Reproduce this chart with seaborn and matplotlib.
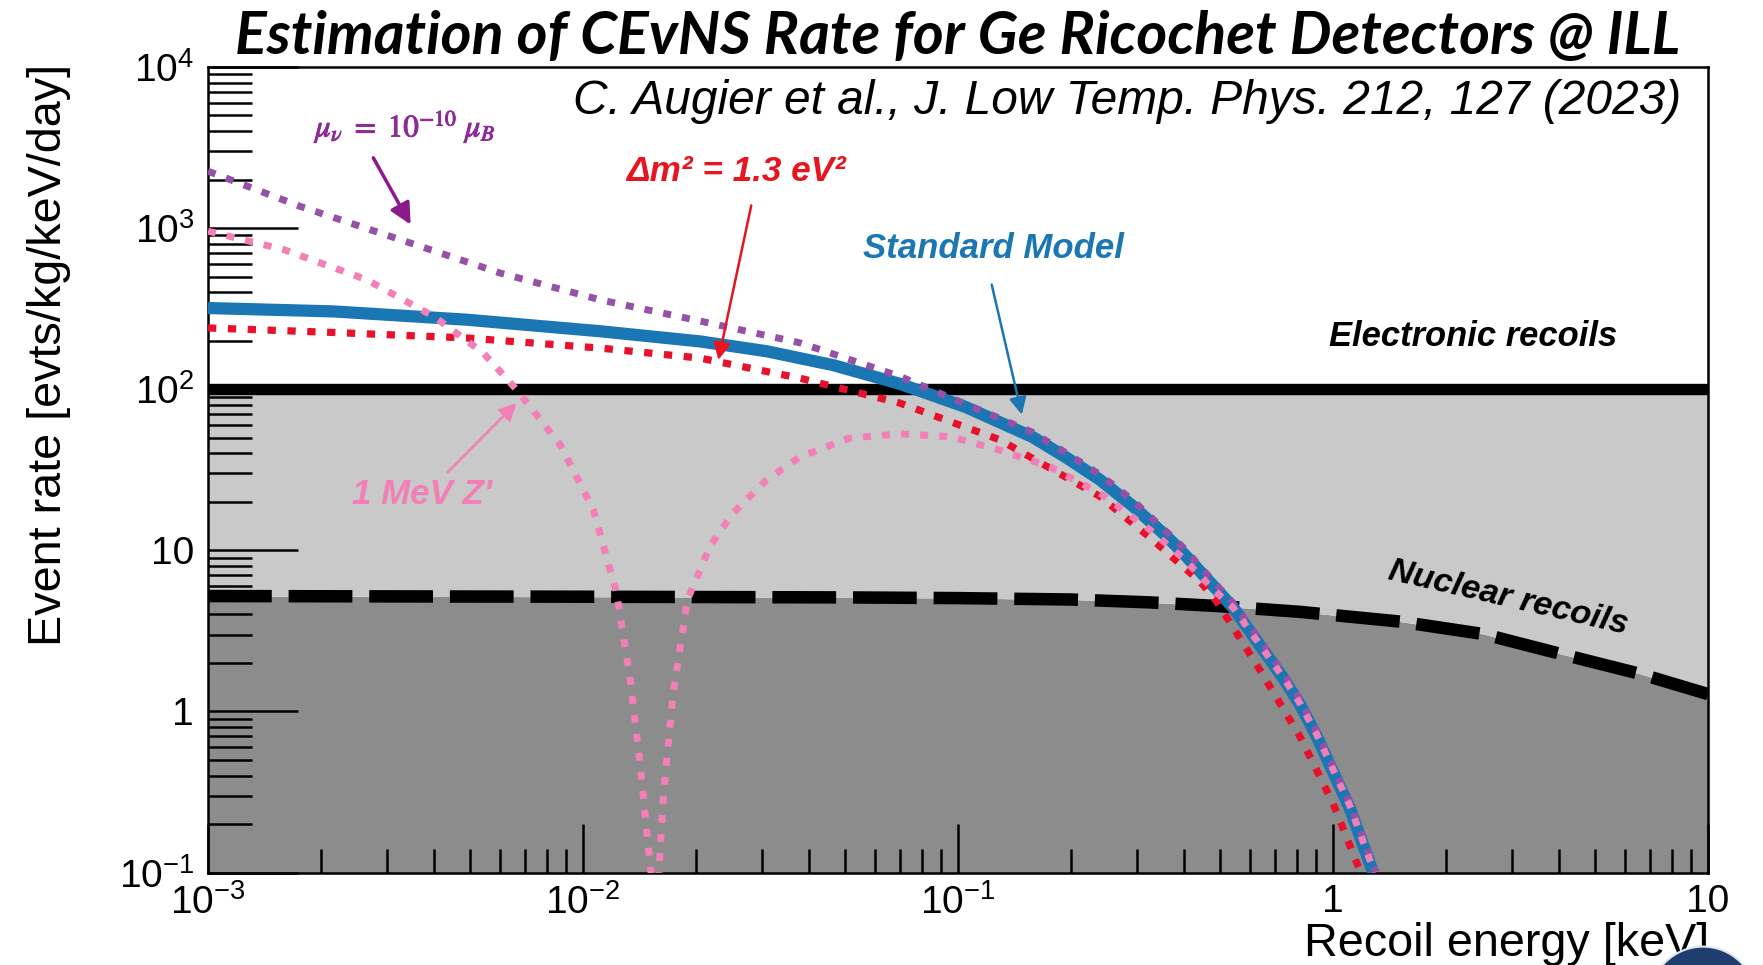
import numpy as np
import pandas as pd
import matplotlib
matplotlib.use("Agg")
import matplotlib.pyplot as plt
import matplotlib.patheffects as pe
import seaborn as sns
from matplotlib.ticker import LogLocator, NullFormatter
from matplotlib.patches import Ellipse

# ---------------- data ----------------
# Recoil energy [keV] / event rate [evts/kg/keV/day]
nuc_E = [0.001, 0.01, 0.05, 0.1, 0.2, 0.325, 0.5, 0.816, 1.51, 2.52, 4.03, 6.59, 10.0]
nuc_R = [5.2, 5.15, 5.1, 5.05, 4.95, 4.75, 4.5, 4.15, 3.61, 3.02, 2.28, 1.71, 1.28]

elec_E = [0.001, 10.0]
elec_R = [100.0, 100.0]

sm_E = [0.001, 0.00216, 0.0049, 0.0111, 0.0205, 0.0309, 0.0465, 0.070, 0.105, 0.158,
        0.195, 0.239, 0.2935, 0.36, 0.399, 0.48, 0.542, 0.738, 0.817, 0.905,
        1.109, 1.28]
sm_R = [319, 304, 270, 229, 198, 172, 141, 108, 77.4, 50.5,
        37.5, 27.4, 18.7, 12.2, 9.6, 6.0, 4.4, 1.6, 1.1, 0.70,
        0.25, 0.1]

mu_E = [0.001, 0.00176, 0.00325, 0.0060, 0.0111, 0.0205, 0.0379, 0.070, 0.129, 0.158,
        0.195, 0.239, 0.2935, 0.399, 0.48, 0.542, 0.738, 0.817, 0.905, 1.109, 1.30]
mu_R = [2255, 1365, 849, 527, 359, 265, 194, 120, 66, 54,
        40, 29.5, 20.3, 10.4, 6.4, 4.7, 1.72, 1.18, 0.75, 0.27, 0.1]

ster_E = [0.001, 0.00216, 0.0049, 0.0111, 0.0205, 0.0379, 0.070, 0.129, 0.176, 0.239,
          0.325, 0.442, 0.49, 0.638, 0.816, 1.0, 1.167, 1.185]
ster_R = [240, 225, 208, 180, 156, 117, 82, 48.6, 32.3, 21.6,
          12.0, 6.4, 4.8, 1.81, 0.70, 0.269, 0.109, 0.1]

zp_E = [0.001, 0.00159, 0.00265, 0.0040, 0.00542, 0.00665, 0.0087, 0.01065, 0.0123, 0.01333,
        0.01417, 0.0149, 0.01565, 0.0164, 0.0174, 0.019, 0.0218, 0.0251, 0.0309, 0.0379,
        0.0515, 0.070, 0.0953, 0.129, 0.176, 0.239, 0.325, 0.399, 0.48, 0.542,
        0.738, 0.817, 0.905, 1.109, 1.29]
zp_R = [957, 736, 478, 283, 168, 99.4, 45, 17.9, 5.4, 1.64,
        0.497, 0.152, 0.05, 0.31, 1.30, 4.93, 10.6, 17, 27.4, 38,
        49.8, 52.8, 50.8, 41.9, 33, 22.6, 13.4, 8.9, 5.7, 4.4,
        1.62, 1.12, 0.72, 0.26, 0.1]

x_ticks = [1e-3, 1e-2, 1e-1, 1, 10]
x_ticklabels = [r"$10^{-3}$", r"$10^{-2}$", r"$10^{-1}$", "1", "10"]
y_ticks = [0.1, 1, 10, 100, 1e3, 1e4]
y_ticklabels = [r"$10^{-1}$", "1", "10", r"$10^{2}$", r"$10^{3}$", r"$10^{4}$"]

title = "Estimation of CEvNS Rate for Ge Ricochet Detectors @ ILL"
subtitle = "C. Augier et al., J. Low Temp. Phys. 212, 127 (2023)"
xlabel = "Recoil energy [keV]"
ylabel = "Event rate [evts/kg/keV/day]"

# ---------------- style ----------------
sns.set_theme(style="white")
plt.rcParams["font.family"] = ["Liberation Sans", "DejaVu Sans"]
plt.rcParams["mathtext.fontset"] = "custom"
plt.rcParams["mathtext.rm"] = "Liberation Sans"
plt.rcParams["mathtext.it"] = "Liberation Sans:italic"
plt.rcParams["mathtext.bf"] = "Liberation Sans:bold"
plt.rcParams["mathtext.sf"] = "Liberation Sans"

W, H = 1763, 965
fig = plt.figure(figsize=(W / 100, H / 100), dpi=100)
fig.patch.set_facecolor("white")
ax = fig.add_axes([208 / W, 1 - 872.5 / H, 1500 / W, (872.5 - 67) / H])
ax.set_xscale("log")
ax.set_yscale("log")
ax.set_xlim(1e-3, 10)
ax.set_ylim(0.1, 1e4)
ax.set_facecolor("white")

LIGHT = "#c9c9c9"
DARK = "#8c8c8c"
BLUE = "#1b77b3"
PURPLE = "#9550a8"
RED = "#e8102a"
PINK = "#f27fb6"

# background bands
ax.fill_between(nuc_E, 0.1, nuc_R, color=DARK, lw=0, zorder=0.5)
ax.fill_between(nuc_E, nuc_R, 100, color=LIGHT, lw=0, zorder=0.5)


def sline(E, R, **kw):
    n = len(ax.lines)
    sns.lineplot(x=np.asarray(E, float), y=np.asarray(R, float), ax=ax,
                 estimator=None, sort=False, legend=False, **kw)
    return ax.lines[n]


DOTS = (0, (1.15, 1.6))
sline(nuc_E, nuc_R, color="black", linewidth=9, linestyle=(0, (5.1, 1.35)),
      dash_capstyle="butt", zorder=1.5)
sline(elec_E, elec_R, color="black", linewidth=8.2, zorder=1.6)
sline(sm_E, sm_R, color=BLUE, linewidth=8.8, zorder=3, solid_capstyle="butt",
      solid_joinstyle="round")
sline(ster_E, ster_R, color=RED, linewidth=5.2, linestyle=DOTS,
      dash_capstyle="butt", zorder=3.2)
sline(mu_E, mu_R, color=PURPLE, linewidth=5.0, linestyle=DOTS,
      dash_capstyle="butt", zorder=3.4)
sline(zp_E, zp_R, color=PINK, linewidth=5.0, linestyle=DOTS,
      dash_capstyle="butt", zorder=3.6)

# axes, ticks
for s in ax.spines.values():
    s.set_color("black")
    s.set_linewidth(1.8)
ax.set_xticks(x_ticks, x_ticklabels)
ax.set_yticks(y_ticks, y_ticklabels)
ax.xaxis.set_minor_locator(LogLocator(base=10, subs=np.arange(2, 10), numticks=30))
ax.yaxis.set_minor_locator(LogLocator(base=10, subs=np.arange(2, 10), numticks=30))
ax.xaxis.set_minor_formatter(NullFormatter())
ax.yaxis.set_minor_formatter(NullFormatter())
ax.tick_params(axis="y", which="major", direction="in", length=65, width=1.8,
               left=True, right=False, labelsize=28, pad=10, colors="black")
ax.tick_params(axis="y", which="minor", direction="in", length=32, width=1.8,
               left=True, right=False, colors="black")
ax.tick_params(axis="x", which="major", direction="in", length=35, width=1.8,
               bottom=True, top=False, labelsize=28, pad=8, colors="black")
ax.tick_params(axis="x", which="minor", direction="in", length=17, width=1.8,
               bottom=True, top=False, colors="black")
ax.grid(False)


# annotations
def arrow(xy, xytext, color, lw, ms):
    ax.annotate("", xy=xy, xytext=xytext, xycoords="data", textcoords="data",
                arrowprops=dict(arrowstyle="-|>", color=color, lw=lw,
                                mutation_scale=ms, shrinkA=0, shrinkB=0),
                zorder=5)


MU_COL = "#8e2a98"
t_mu = ax.text(0.00337, 4270, r"$\mu_{\nu}\ =\ \mathit{10^{-10}}\ \mu_{B}$", color=MU_COL,
               ha="center", va="center", fontsize=24, math_fontfamily="stix", zorder=5,
               path_effects=[pe.withStroke(linewidth=0.7, foreground=MU_COL)])
arrow((0.00347, 1051), (0.00276, 2729), "#8b1a8b", 2.5, 32)

t_dm = ax.text(0.0256, 2244, "\u0394m\u00b2 = 1.3 eV\u00b2", color="#e8141e",
               ha="center", va="center", fontsize=22, fontweight="bold", style="italic", zorder=5)
arrow((0.02296, 152), (0.0281, 1383), "#e8141e", 1.8, 26)

t_sm = ax.text(0.124, 751, "Standard Model", color=BLUE, ha="center", va="center",
               fontsize=22, fontweight="bold", style="italic", zorder=5)
arrow((0.148, 69.5), (0.123, 446), BLUE, 1.8, 26)

t_el = ax.text(2.36, 211, "Electronic recoils", color="black", ha="center", va="center",
               fontsize=22, fontweight="bold", style="italic", zorder=5)

t_nu = ax.text(2.94, 5.05, "Nuclear recoils", color="black", ha="center", va="center",
               fontsize=22, fontweight="bold", style="italic", zorder=5)

t_zp = ax.text(0.00371, 22.2, "1 MeV Z'", color=PINK, ha="center", va="center",
               fontsize=22, fontweight="bold", style="italic", zorder=5)
arrow((0.00665, 82), (0.00436, 30.6), PINK, 1.8, 26)

t_title = fig.text(958 / W, 1 - 54 / H, title, ha="center", va="baseline",
                   fontsize=44, fontweight="bold", style="italic",
                   family=["Lato", "Open Sans", "DejaVu Sans"], color="black")
t_sub = fig.text(1681 / W, 1 - 113.5 / H, subtitle, ha="right", va="baseline",
                 fontsize=30, style="italic",
                 family=["Liberation Sans Narrow", "Liberation Sans", "DejaVu Sans"], color="black")
t_xl = fig.text(1709 / W, 1 - 956 / H, xlabel, ha="right", va="baseline", fontsize=30, color="black")
t_yl = fig.text(49 / W, 1 - 355 / H, ylabel, ha="center", va="center", rotation=90,
                fontsize=30, color="black")

# fit text sizes to the widths measured on the reference
fig.canvas.draw()
r = fig.canvas.get_renderer()
for t, target, dim in [(t_title, 1445, "w"), (t_sub, 1108, "w"), (t_xl, 405, "w"),
                       (t_yl, 582, "h"), (t_mu, 182, "w"), (t_dm, 220, "w"),
                       (t_sm, 260, "w"), (t_el, 288, "w"), (t_nu, 245, "w"),
                       (t_zp, 140, "w")]:
    bb = t.get_window_extent(r)
    size = bb.width if dim == "w" else bb.height
    t.set_fontsize(t.get_fontsize() * target / size)
t_nu.set_rotation(-13)
t_nu.set_rotation_mode("anchor")

# slide decoration: navy circle in the bottom-right corner
r_px = 53.4
fig.add_artist(Ellipse((1703 / W, 1 - 1000 / H), 2 * r_px / W, 2 * r_px / H,
                       transform=fig.transFigure, facecolor="#1f3d6e",
                       edgecolor="#dfe6f0", linewidth=1.5, zorder=10))

fig.savefig("out.png", dpi=100, facecolor="white")
